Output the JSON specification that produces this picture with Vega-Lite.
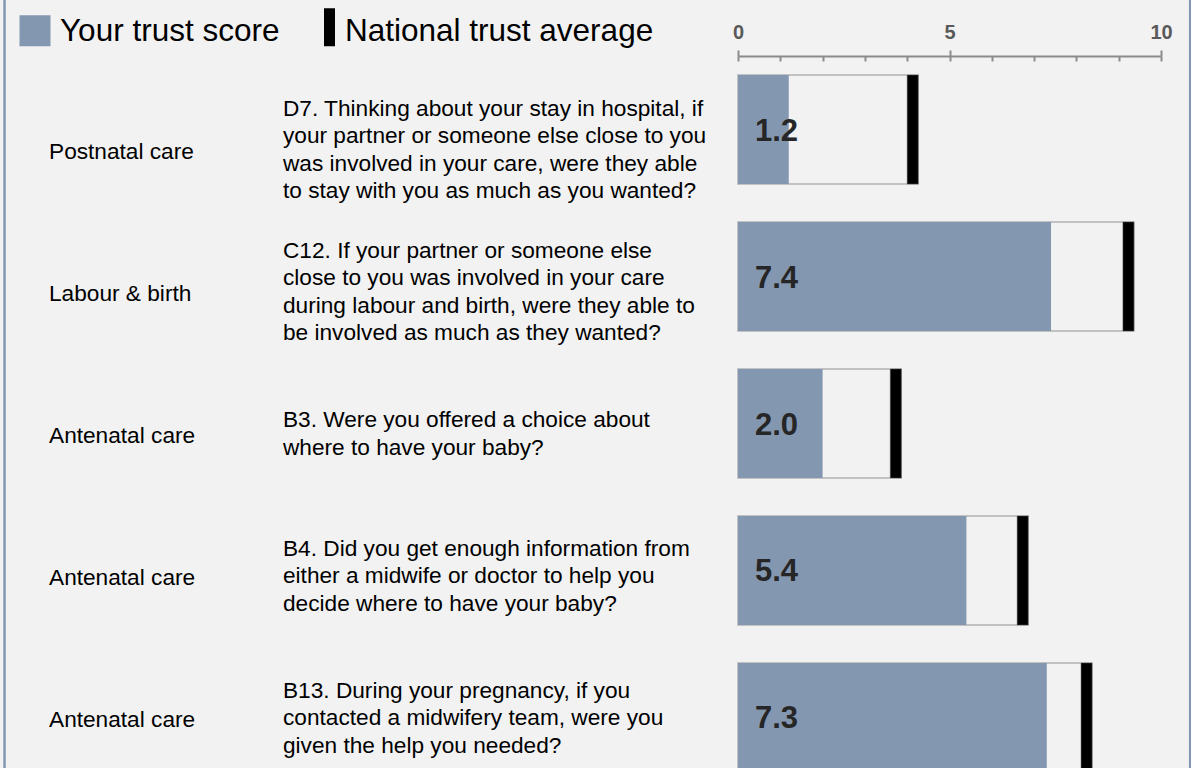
{
  "$schema": "https://vega.github.io/schema/vega-lite/v6.json",
  "width": 423,
  "height": 712,
  "autosize": "none",
  "padding": {"left": 738, "top": 56, "right": 30, "bottom": 0},
  "background": "#f2f2f2",
  "config": {"view": {"stroke": null}, "font": "Liberation Sans"},
  "data": {
    "values": [
      {"category": "Postnatal care", "question": "D7. Thinking about your stay in hospital, if\nyour partner or someone else close to you\nwas involved in your care, were they able\nto stay with you as much as you wanted?", "score": 1.2, "national": 4.13},
      {"category": "Labour & birth", "question": "C12. If your partner or someone else\nclose to you was involved in your care\nduring labour and birth, were they able to\nbe involved as much as they wanted?", "score": 7.4, "national": 9.23},
      {"category": "Antenatal care", "question": "B3. Were you offered a choice about\nwhere to have your baby?", "score": 2.0, "national": 3.73},
      {"category": "Antenatal care", "question": "B4. Did you get enough information from\neither a midwife or doctor to help you\ndecide where to have your baby?", "score": 5.4, "national": 6.73},
      {"category": "Antenatal care", "question": "B13. During your pregnancy, if you\ncontacted a midwifery team, were you\ngiven the help you needed?", "score": 7.3, "national": 8.24}
    ]
  },
  "resolve": {"scale": {"y": "independent"}, "axis": {"x": "independent"}},
  "layer": [
    {
      "data": {"values": [{}]},
      "mark": {"type": "rule", "color": "#8497b0", "strokeWidth": 2.5, "yOffset": -56},
      "encoding": {"x": {"datum": -17.34, "type": "quantitative", "scale": {"domain": [0, 10], "nice": false, "zero": false}, "axis": null}}
    },
    {
      "data": {"values": [{}]},
      "mark": {"type": "rule", "color": "#8497b0", "strokeWidth": 2.5, "yOffset": -56},
      "encoding": {"x": {"datum": 10.69, "type": "quantitative", "scale": {"domain": [0, 10], "nice": false, "zero": false}, "axis": null}}
    },
    {
      "mark": {"type": "bar", "fill": "#f2f2f2", "stroke": "#b3b3b3", "strokeWidth": 1.5, "xOffset": 5.5},
      "encoding": {
        "y": {"field": "question", "type": "nominal", "sort": null, "axis": null, "scale": {"type": "band", "range": [19, 716], "paddingInner": 0.2585, "paddingOuter": 0}},
        "x": {"field": "national", "type": "quantitative", "scale": {"domain": [0, 10], "nice": false, "zero": false},
              "axis": {"orient": "top", "values": [0, 1, 2, 3, 4, 5, 6, 7, 8, 9, 10], "tickSize": -5, "tickWidth": 2, "tickColor": "#8c8c8c", "domain": false, "labels": false, "grid": false, "title": null}},
        "x2": {"datum": 0}
      }
    },
    {
      "mark": {"type": "bar"},
      "encoding": {
        "y": {"field": "question", "type": "nominal", "sort": null, "axis": null, "scale": {"type": "band", "range": [19, 716], "paddingInner": 0.2585, "paddingOuter": 0}},
        "x": {"field": "score", "type": "quantitative", "scale": {"domain": [0, 10], "nice": false, "zero": false},
              "axis": {"orient": "top", "values": [0, 5, 10], "tickSize": 6, "tickWidth": 2, "tickColor": "#8c8c8c", "domainColor": "#8c8c8c", "domainWidth": 2, "labelFontSize": 20, "labelFontWeight": "bold", "labelColor": "#595959", "labelPadding": 8, "labelFlush": false, "grid": false, "title": null, "labelFont": "Liberation Sans"}},
        "x2": {"datum": 0},
        "color": {"datum": "Your trust score", "type": "nominal",
                  "scale": {"domain": ["Your trust score", "National trust average"], "range": ["#8497b0", "#000000"]},
                  "legend": {"orient": "none", "legendX": -722, "legendY": -43, "direction": "horizontal", "title": null,
                             "symbolSize": 1444, "labelFontSize": 31.5, "labelFont": "Liberation Sans", "labelColor": "#000000",
                             "labelOffset": 6, "columnPadding": 21, "labelLimit": 0, "symbolStrokeWidth": 0, "symbolOpacity": 1,
                             "encode": {"symbols": {"update": {"shape": {"signal": "datum.value === 'National trust average' ? 'M0.21,-1.263H0.79V0.737H0.21Z' : 'M-0.816,-0.895H0.816V0.737H-0.816Z'"}}}}}}
      }
    },
    {
      "mark": {"type": "bar", "xOffset": -5.5, "x2Offset": 5.5, "stroke": "#555555", "strokeWidth": 0.5},
      "encoding": {
        "y": {"field": "question", "type": "nominal", "sort": null, "axis": null, "scale": {"type": "band", "range": [19, 716], "paddingInner": 0.2585, "paddingOuter": 0}},
        "x": {"field": "national", "type": "quantitative", "scale": {"domain": [0, 10], "nice": false, "zero": false}, "axis": null},
        "x2": {"field": "national"},
        "color": {"datum": "National trust average", "type": "nominal"}
      }
    },
    {
      "mark": {"type": "text", "align": "left", "baseline": "middle", "dx": 17, "dy": 2, "fontSize": 31, "fontWeight": "bold", "color": "#262626", "font": "Liberation Sans"},
      "encoding": {
        "y": {"field": "question", "type": "nominal", "sort": null, "axis": null, "scale": {"type": "band", "range": [19, 716], "paddingInner": 0.2585, "paddingOuter": 0}},
        "x": {"datum": 0, "type": "quantitative", "scale": {"domain": [0, 10], "nice": false, "zero": false}, "axis": null},
        "text": {"field": "score", "type": "quantitative", "format": ".1f"}
      }
    },
    {
      "mark": {"type": "text", "align": "left", "baseline": "middle", "fontSize": 22.67, "color": "#000000", "font": "Liberation Sans", "dy": 2},
      "encoding": {
        "y": {"field": "question", "type": "nominal", "sort": null, "axis": null, "scale": {"type": "point", "range": [22.95, 733.45], "padding": 0.5}},
        "x": {"datum": -16.288, "type": "quantitative", "scale": {"domain": [0, 10], "nice": false, "zero": false}, "axis": null},
        "text": {"field": "category", "type": "nominal"}
      }
    },
    {
      "mark": {"type": "text", "align": "left", "baseline": "middle", "fontSize": 22.67, "lineBreak": "\n", "lineHeight": 27.5, "color": "#000000", "font": "Liberation Sans",
               "dy": {"expr": "-(length(split(datum.question, '\\n')) - 1) * 13.75"}},
      "encoding": {
        "y": {"field": "question", "type": "nominal", "sort": null, "axis": null, "scale": {"type": "point", "range": [22.95, 733.45], "padding": 0.5}},
        "x": {"datum": -10.757, "type": "quantitative", "scale": {"domain": [0, 10], "nice": false, "zero": false}, "axis": null},
        "text": {"field": "question", "type": "nominal"}
      }
    }
  ]
}
